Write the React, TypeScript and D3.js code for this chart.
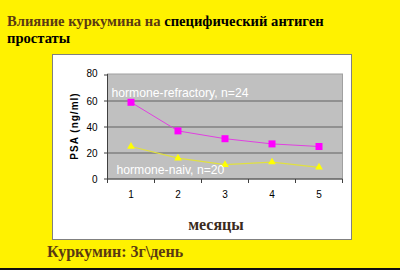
import React from "react";
import * as d3 from "d3";

const months = [1, 2, 3, 4, 5];
const refractory = [59, 37, 31, 27, 25];
const naiv = [25, 16, 11, 13, 9];
const yTicks = [0, 20, 40, 60, 80];

const W = 400;
const H = 270;

export default function App() {
  const x = d3.scaleBand<number>().domain(months).range([107.5, 342.5]);
  const y = d3.scaleLinear().domain([0, 80]).range([179, 75]);
  const cx = (m: number) => (x(m) as number) + x.bandwidth() / 2;
  const line = d3
    .line<number>()
    .x((_, i) => cx(months[i]))
    .y((d) => y(d));
  const serif = "'Liberation Serif', 'Times New Roman', serif";
  const sans = "'Liberation Sans', Arial, sans-serif";
  const brown = "#5a3a12";
  const tri = d3.symbol().type(d3.symbolTriangle).size(26)() as string;
  const bandEdges = [...months.map((m) => x(m) as number), x.range()[1]];
  return (
    <svg
      width={W}
      height={H}
      style={{ position: "absolute", left: 0, top: 0, display: "block" }}
    >
      <rect x={0} y={0} width={W} height={H} fill="#fff200" />
      <rect x={0} y={268} width={W} height={2} fill="#101010" />
      <text x={7} y={26} fontFamily={serif} fontWeight="bold" fontSize={14.6}>
        <tspan fill={brown}>Влияние куркумина на </tspan>
        <tspan fill="#000">специфический антиген</tspan>
      </text>
      <text x={7} y={43} fontFamily={serif} fontWeight="bold" fontSize={14.6} fill="#000">
        простаты
      </text>
      <rect x={52.5} y={54.5} width={299} height={185} fill="#fff" stroke="#808080" />
      <rect x={107.5} y={74} width={235} height={105} fill="#c0c0c0" stroke="#a0a0a0" />
      {yTicks.slice(1, 4).map((t) => (
        <line key={t} x1={107.5} x2={342.5} y1={y(t)} y2={y(t)} stroke="#808080" strokeWidth={1.5} />
      ))}
      <line x1={107.5} x2={107.5} y1={74} y2={179} stroke="#404040" />
      <line x1={107.5} x2={342.5} y1={179} y2={179} stroke="#404040" />
      {yTicks.map((t) => (
        <g key={t}>
          <line x1={104} x2={107.5} y1={y(t)} y2={y(t)} stroke="#404040" />
          <text
            x={97.5}
            y={t === 80 ? 73.5 : y(t)}
            dy="0.35em"
            textAnchor="end"
            fontFamily={sans}
            fontSize={10}
            fill="#000"
          >
            {t}
          </text>
        </g>
      ))}
      {bandEdges.map((e, i) => (
        <line key={i} x1={e} x2={e} y1={179} y2={183} stroke="#404040" />
      ))}
      {months.map((m) => (
        <text key={m} x={cx(m)} y={197.5} textAnchor="middle" fontFamily={sans} fontSize={10} fill="#000">
          {m}
        </text>
      ))}
      <text
        transform={`translate(78,126) rotate(-90)`}
        textAnchor="middle"
        fontFamily={sans}
        fontWeight="bold"
        fontSize={10}
        letterSpacing={1}
        fill="#000"
      >
        PSA (ng/ml)
      </text>
      <text x={216} y={230} textAnchor="middle" fontFamily={serif} fontWeight="bold" fontSize={16} fill="#3a2a20">
        месяцы
      </text>
      <path d={line(refractory) as string} fill="none" stroke="#e040e0" strokeWidth={1} />
      <path d={line(naiv) as string} fill="none" stroke="#e0e040" strokeWidth={1.2} />
      {refractory.map((v, i) => (
        <rect key={i} x={cx(months[i]) - 3.5} y={y(v) - 3.5} width={7} height={7} fill="#ff00ff" />
      ))}
      {naiv.map((v, i) => (
        <path key={i} d={tri} transform={`translate(${cx(months[i])},${y(v)})`} fill="#ffff00" />
      ))}
      <text x={111.5} y={97} fontFamily={sans} fontSize={12.2} fill="#fff">
        hormone-refractory, n=24
      </text>
      <text x={116.5} y={174} fontFamily={sans} fontSize={12.2} fill="#fff">
        hormone-naiv, n=20
      </text>
      <text x={47} y={257} fontFamily={serif} fontWeight="bold" fontSize={16} fill={brown}>
        Куркумин: 3г\день
      </text>
    </svg>
  );
}
